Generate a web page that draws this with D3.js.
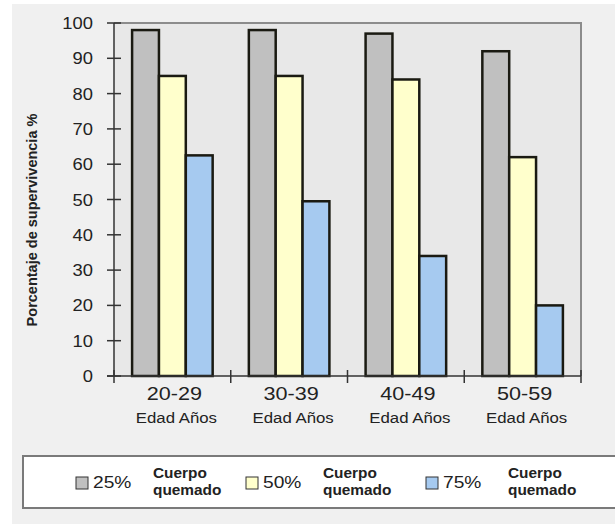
<!DOCTYPE html>
<html>
<head>
<meta charset="utf-8">
<script src="https://cdn.jsdelivr.net/npm/d3@7"></script>
<style>
html,body{margin:0;padding:0;background:#fff;}
svg{display:block;}
text{font-family:"Liberation Sans", Arial, sans-serif;}
</style>
</head>
<body>
<div id="chart"></div>
<script>
const categories = ["20-29", "30-39", "40-49", "50-59"];
const subLabel = "Edad Años";
const seriesNames = ["25%", "50%", "75%"];
const seriesNote = ["Cuerpo", "quemado"];
const values25 = [98, 98, 97, 92];
const values50 = [85, 85, 84, 62];
const values75 = [62.5, 49.5, 34, 20];
const yTicks = [0, 10, 20, 30, 40, 50, 60, 70, 80, 90, 100];
const yTitle = "Porcentaje de supervivencia %";
const colors = ["#c0c0c0", "#ffffcc", "#a6caf0"];

(function () {
const series = [values25, values50, values75];
const W = 615, H = 524;
const svg = d3.select("#chart").append("svg").attr("width", W).attr("height", H);

svg.append("rect").attr("x", 12).attr("y", 4).attr("width", W - 12).attr("height", H - 4).attr("fill", "#f0f0f0");

const pL = 114, pR = 581, pT = 23, pB = 376;
const y = d3.scaleLinear().domain([0, 100]).range([pB, pT]);
const x = d3.scaleBand().domain(categories).range([pL, pR]).paddingInner(0.31).paddingOuter(0.155);
const xs = d3.scaleBand().domain(d3.range(series.length)).range([0, x.bandwidth()]);

// plot area
svg.append("rect").attr("x", pL).attr("y", pT).attr("width", pR - pL).attr("height", pB - pT).attr("fill", "#e8e8e8");
svg.append("path").attr("d", `M${pL},${pT}H${pR}V${pB}`).attr("fill", "none").attr("stroke", "#8c8c8c").attr("stroke-width", 2);

// bars
const g = svg.append("g");
categories.forEach((c, i) => {
  series.forEach((s, j) => {
    g.append("rect")
      .attr("x", x(c) + xs(j))
      .attr("y", y(s[i]))
      .attr("width", xs.bandwidth())
      .attr("height", y(0) - y(s[i]))
      .attr("fill", colors[j])
      .attr("stroke", "#1a1a12")
      .attr("stroke-width", 2.5);
  });
});

// y axis
const yAxis = svg.append("g");
yAxis.append("line").attr("x1", pL).attr("x2", pL).attr("y1", pT).attr("y2", pB).attr("stroke", "#333").attr("stroke-width", 1.5);
yTicks.forEach(t => {
  yAxis.append("line").attr("x1", pL - 7).attr("x2", pL + 7).attr("y1", y(t)).attr("y2", y(t)).attr("stroke", "#333").attr("stroke-width", 1.5);
  yAxis.append("text").attr("transform", `translate(93,${y(t) + 6}) scale(1.08,1)`)
    .attr("text-anchor", "end").attr("font-size", 17).attr("fill", "#222").text(t);
});

// x axis
const xAxis = svg.append("g");
xAxis.append("line").attr("x1", pL - 7).attr("x2", pR).attr("y1", pB).attr("y2", pB).attr("stroke", "#333").attr("stroke-width", 1.5);
const bounds = categories.map(c => x(c) - x.step() * x.paddingInner() / 2);
bounds.push(pR);
bounds.forEach(b => {
  xAxis.append("line").attr("x1", b).attr("x2", b).attr("y1", pB - 6).attr("y2", pB + 7).attr("stroke", "#333").attr("stroke-width", 1.5);
});
categories.forEach(c => {
  const cx = x(c) + x.bandwidth() / 2 + 2;
  xAxis.append("text").attr("transform", `translate(${cx},400) scale(1.2,1)`)
    .attr("text-anchor", "middle").attr("font-size", 18).attr("fill", "#222").text(c);
  xAxis.append("text").attr("transform", `translate(${cx + 2},423) scale(1.12,1)`)
    .attr("text-anchor", "middle").attr("font-size", 15).attr("fill", "#222").text(subLabel);
});

// y title
svg.append("text").attr("transform", "translate(37,220) rotate(-90)")
  .attr("text-anchor", "middle").attr("font-size", 14.5).attr("font-weight", "bold").attr("fill", "#222").text(yTitle);

// legend
const lg = svg.append("g");
lg.append("rect").attr("x", 23).attr("y", 456).attr("width", 640).attr("height", 52).attr("fill", "#fff").attr("stroke", "#7a7a7a").attr("stroke-width", 2);
const swX = [76, 246, 426];
const noteX = [153, 323, 508];
seriesNames.forEach((n, j) => {
  lg.append("rect").attr("x", swX[j]).attr("y", 477).attr("width", 12).attr("height", 12)
    .attr("fill", colors[j]).attr("stroke", "#333").attr("stroke-width", 1);
  lg.append("text").attr("transform", `translate(${swX[j] + 17},488) scale(1.2,1)`)
    .attr("font-size", 16).attr("fill", "#222").text(n);
  seriesNote.forEach((t, k) => {
    lg.append("text").attr("transform", `translate(${noteX[j]},${478 + k * 17}) scale(1.1,1)`)
      .attr("font-size", 14).attr("font-weight", "bold").attr("fill", "#222").text(t);
  });
});
})();
</script>
</body>
</html>
